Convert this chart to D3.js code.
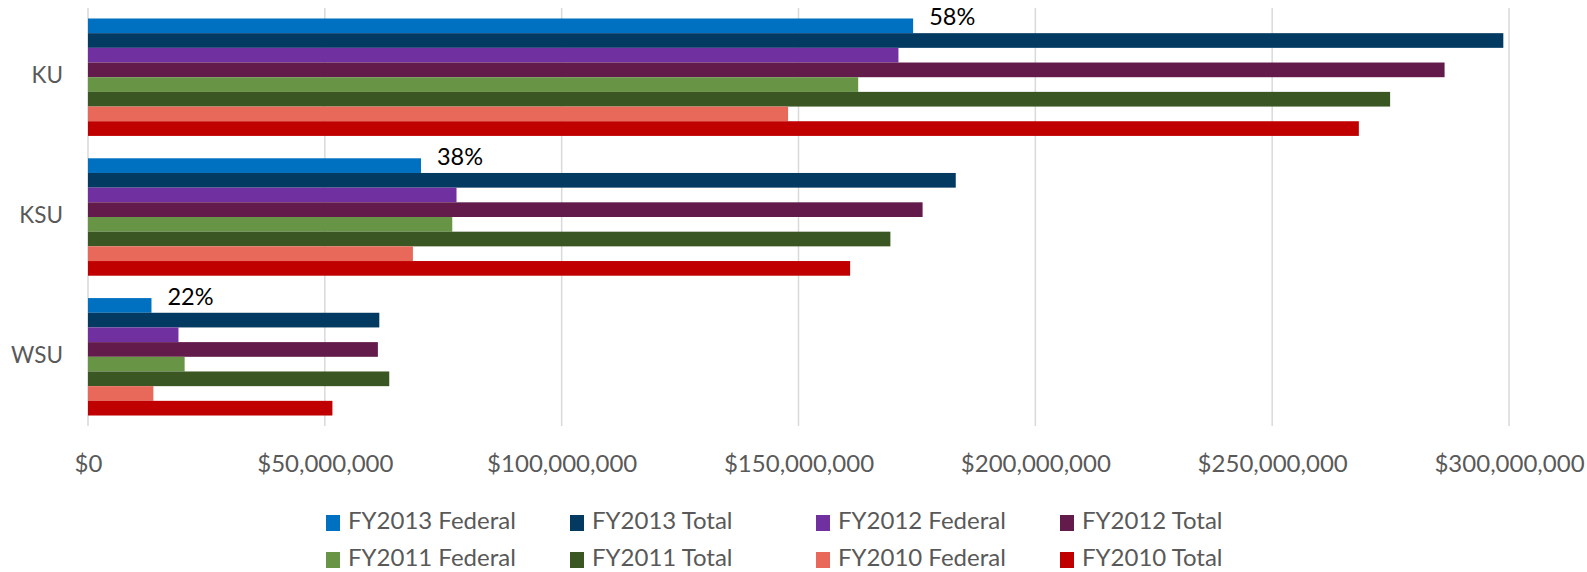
<!DOCTYPE html>
<html>
<head>
<meta charset="utf-8">
<script src="https://cdn.jsdelivr.net/npm/d3@7"></script>
<style>
  body { margin: 0; background: #fff; }
  svg { display: block; font-family: Lato, "Open Sans", sans-serif; }
</style>
</head>
<body>
<svg id="chart" width="1587" height="572"></svg>
<script>
// categories (top to bottom)
const schools = ["KU", "KSU", "WSU"];

// series, in the order they are stacked inside each group
const seriesNames = [
    "FY2013 Federal", "FY2013 Total",
    "FY2012 Federal", "FY2012 Total",
    "FY2011 Federal", "FY2011 Total",
    "FY2010 Federal", "FY2010 Total"
];
const seriesColors = [
    "#0070C0", "#023A62",
    "#7030A0", "#621B4A",
    "#689446", "#3A5723",
    "#E8695A", "#C00000"
];

// values per school (KU, KSU, WSU), dollars
const fy2013Federal = [174200000, 70300000, 13400000];
const fy2013Total   = [298800000, 183200000, 61500000];
const fy2012Federal = [171100000, 77800000, 19100000];
const fy2012Total   = [286400000, 176200000, 61200000];
const fy2011Federal = [162600000, 76900000, 20400000];
const fy2011Total   = [274900000, 169400000, 63600000];
const fy2010Federal = [147800000, 68600000, 13800000];
const fy2010Total   = [268300000, 160900000, 51600000];

const xTicks = [0, 50000000, 100000000, 150000000, 200000000, 250000000, 300000000];

const seriesValues = [
    fy2013Federal, fy2013Total,
    fy2012Federal, fy2012Total,
    fy2011Federal, fy2011Total,
    fy2010Federal, fy2010Total
];

const rows = [];
schools.forEach((s, i) => {
    seriesNames.forEach((name, j) => {
        rows.push({ school: s, series: name, value: seriesValues[j][i], color: seriesColors[j] });
    });
});

const svg = d3.select("#chart");

const x = d3.scaleLinear().domain([0, 300000000]).range([88, 1509]);
const y = d3.scaleBand().domain(schools).range([8, 426]).paddingInner(0.16).paddingOuter(0.075);
const yInner = d3.scaleBand().domain(seriesNames).range([0, y.bandwidth()]);

// gridlines
svg.append("g")
    .selectAll("line")
    .data(xTicks)
    .join("line")
    .attr("x1", d => x(d)).attr("x2", d => x(d))
    .attr("y1", 8).attr("y2", 426)
    .attr("stroke", "#d9d9d9")
    .attr("stroke-width", 1.5);

// bars
svg.append("g")
    .selectAll("rect")
    .data(rows)
    .join("rect")
    .attr("x", x(0))
    .attr("y", d => y(d.school) + yInner(d.series))
    .attr("width", d => x(d.value) - x(0))
    .attr("height", yInner.bandwidth())
    .attr("fill", d => d.color);

// federal share labels on FY2013 Federal bars
svg.append("g")
    .selectAll("text")
    .data(schools)
    .join("text")
    .attr("x", (d, i) => x(fy2013Federal[i]) + 16)
    .attr("y", d => y(d) + 1)
    .attr("dominant-baseline", "middle")
    .attr("font-size", 23.5)
    .attr("fill", "#000")
    .text((d, i) => Math.round(fy2013Federal[i] / fy2013Total[i] * 100) + "%");

// category labels
svg.append("g")
    .selectAll("text")
    .data(schools)
    .join("text")
    .attr("x", 63)
    .attr("y", d => y(d) + y.bandwidth() / 2)
    .attr("text-anchor", "end")
    .attr("dominant-baseline", "middle")
    .attr("font-size", 22.5)
    .attr("fill", "#595959")
    .text(d => d);

// x axis labels
const xAxis = svg.append("g")
    .attr("transform", "translate(0,452)")
    .call(d3.axisBottom(x).tickValues(xTicks).tickFormat(d3.format("$,")).tickSize(0));
xAxis.select(".domain").remove();
xAxis.selectAll("text")
    .attr("font-family", "Lato, sans-serif")
    .attr("font-size", 24)
    .attr("fill", "#595959");

// legend
const legendX = [326, 570, 816, 1060];
const legendY = [523, 560];
const legend = svg.append("g")
    .selectAll("g")
    .data(seriesNames)
    .join("g")
    .attr("transform", (d, i) => `translate(${legendX[i % 4]},${legendY[Math.floor(i / 4)]})`);
legend.append("rect")
    .attr("x", 0).attr("y", -8)
    .attr("width", 14).attr("height", 16)
    .attr("fill", (d, i) => seriesColors[i]);
legend.append("text")
    .attr("x", 22)
    .attr("dominant-baseline", "middle")
    .attr("font-size", 24)
    .attr("fill", "#595959")
    .text(d => d);
</script>
</body>
</html>
